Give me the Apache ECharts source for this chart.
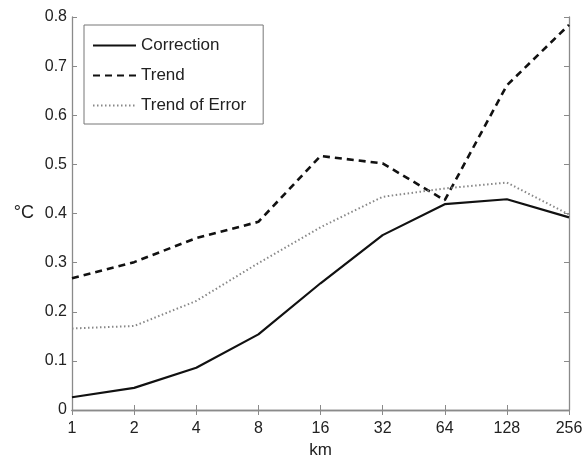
<!DOCTYPE html>
<html>
<head>
<meta charset="utf-8">
<script src="https://cdn.jsdelivr.net/npm/echarts@6/dist/echarts.min.js"></script>
<style>html,body{margin:0;padding:0;background:#fff}#c{width:587px;height:455px}</style>
</head>
<body>
<div id="c"></div>
<script>
var categories = ['1','2','4','8','16','32','64','128','256'];
var correction = [0.026, 0.045, 0.086, 0.154, 0.258, 0.356, 0.419, 0.429, 0.392];
var trend = [0.268, 0.301, 0.350, 0.383, 0.517, 0.502, 0.427, 0.661, 0.784];
var trendOfError = [0.166, 0.171, 0.222, 0.299, 0.372, 0.434, 0.451, 0.463, 0.398];

var axisColor = '#8a8a8a';
var font = 'Liberation Sans, Arial, Helvetica, sans-serif';
var chart = echarts.init(document.getElementById('c'));
chart.setOption({
  animation: false,
  backgroundColor: '#fff',
  grid: {left: 72, right: 18, top: 17, bottom: 45, show: false, containLabel: false, outerBoundsMode: 'none'},
  legend: {
    orient: 'vertical', left: 84, top: 25,
    borderColor: '#777', borderWidth: 1,
    padding: [12, 17, 10, 8],
    itemWidth: 43, itemHeight: 14, itemGap: 13,
    itemStyle: {opacity: 0},
    textStyle: {fontFamily: font, fontSize: 17, color: '#222', padding: [0, 0, 0, 0]},
    data: ['Correction', 'Trend', 'Trend of Error']
  },
  xAxis: [{
    type: 'category', data: categories, boundaryGap: false,
    name: 'km', nameLocation: 'middle', nameGap: 28,
    nameTextStyle: {fontFamily: font, fontSize: 17, color: '#222'},
    axisLine: {lineStyle: {color: axisColor, width: 1.3}},
    axisTick: {inside: true, length: 5, lineStyle: {color: axisColor}},
    axisLabel: {fontFamily: font, fontSize: 16, color: '#222', margin: 11},
    splitLine: {show: false}
  }, {
    type: 'category', data: categories, boundaryGap: false, position: 'top',
    axisLine: {lineStyle: {color: axisColor, width: 1.3}},
    axisTick: {inside: true, length: 5, lineStyle: {color: axisColor}},
    axisLabel: {show: false}, splitLine: {show: false}
  }],
  yAxis: [{
    type: 'value', min: 0, max: 0.8, interval: 0.1,
    name: '°C', nameLocation: 'middle', nameGap: 38, nameRotate: 0,
    nameTextStyle: {fontFamily: font, fontSize: 18, color: '#222'},
    axisLine: {show: true, lineStyle: {color: axisColor, width: 1.3}},
    axisTick: {show: true, inside: true, length: 5, lineStyle: {color: axisColor}},
    axisLabel: {fontFamily: font, fontSize: 16, color: '#222', margin: 5,
      formatter: function (v) { return v === 0 ? '0' : v.toFixed(1); }},
    splitLine: {show: false}
  }, {
    type: 'value', min: 0, max: 0.8, interval: 0.1, position: 'right',
    axisLine: {show: true, lineStyle: {color: axisColor, width: 1.3}},
    axisTick: {show: true, inside: true, length: 5, lineStyle: {color: axisColor}},
    axisLabel: {show: false}, splitLine: {show: false}
  }],
  series: [{
    name: 'Correction', type: 'line', data: correction, symbol: 'none',
    color: '#111', lineStyle: {color: '#111', width: 2.2, type: 'solid'}
  }, {
    name: 'Trend', type: 'line', data: trend, symbol: 'none',
    color: '#111', lineStyle: {color: '#111', width: 2.6, type: [7, 5]}
  }, {
    name: 'Trend of Error', type: 'line', data: trendOfError, symbol: 'none',
    color: '#888', lineStyle: {color: '#888', width: 2, type: [1.5, 2.5]}
  }]
});
</script>
</body>
</html>
